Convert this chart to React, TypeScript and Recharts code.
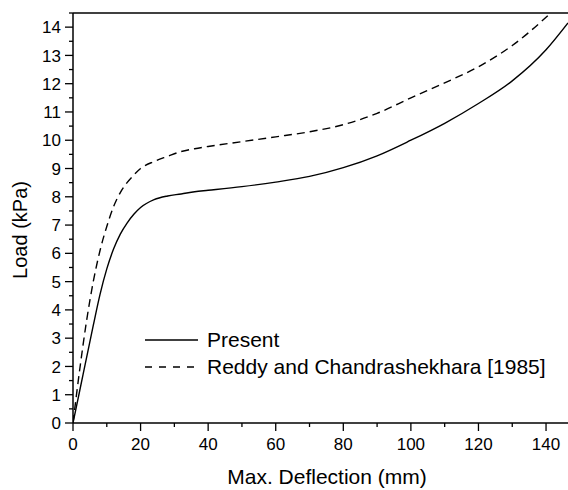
import { Label, Line, LineChart, ReferenceLine, XAxis, YAxis } from "recharts";

// Load vs. max deflection
const presentDeflection = [0, 2, 4, 6, 8, 10, 12, 14, 16, 18, 20, 24, 28, 32, 36, 40, 50, 60, 70, 80, 90, 100, 110, 120, 130, 140, 146.5];
const presentLoad = [0, 1.15, 2.3, 3.45, 4.55, 5.45, 6.15, 6.68, 7.07, 7.38, 7.62, 7.9, 8.03, 8.1, 8.18, 8.23, 8.36, 8.52, 8.72, 9.03, 9.45, 10.0, 10.6, 11.3, 12.1, 13.2, 14.15];

const reddyDeflection = [0, 2, 4, 6, 8, 10, 12, 14, 16, 18, 20, 24, 28, 32, 36, 40, 50, 60, 70, 80, 90, 100, 110, 120, 130, 140, 146.5];
const reddyLoad = [0, 1.9, 3.6, 5.0, 6.1, 6.95, 7.65, 8.15, 8.5, 8.77, 9.0, 9.25, 9.43, 9.6, 9.7, 9.78, 9.95, 10.12, 10.3, 10.55, 10.95, 11.5, 12.03, 12.6, 13.35, 14.35, 15.1];

const xTicks = [0, 10, 20, 30, 40, 50, 60, 70, 80, 90, 100, 110, 120, 130, 140];
const yTicks = [0, 0.5, 1, 1.5, 2, 2.5, 3, 3.5, 4, 4.5, 5, 5.5, 6, 6.5, 7, 7.5, 8, 8.5, 9, 9.5, 10, 10.5, 11, 11.5, 12, 12.5, 13, 13.5, 14, 14.5];

const presentData = presentDeflection.map((x, i) => ({ x, load: presentLoad[i] }));
const reddyData = reddyDeflection.map((x, i) => ({ x, load: reddyLoad[i] }));

const FONT = '"Liberation Sans", Arial, sans-serif';

function XTick(props: any) {
  const { x, y, payload } = props;
  const major = payload.value % 20 === 0;
  return (
    <g>
      <line x1={x} x2={x} y1={y} y2={y + (major ? 8 : 4)} stroke="#000" strokeWidth={1.3} />
      {major && (
        <text x={x} y={y + 27} textAnchor="middle" fontFamily={FONT} fontSize={17} fill="#000">
          {payload.value}
        </text>
      )}
    </g>
  );
}

function YTick(props: any) {
  const { x, y, payload } = props;
  const major = Number.isInteger(payload.value);
  return (
    <g>
      <line x1={x - (major ? 8 : 4)} x2={x} y1={y} y2={y} stroke="#000" strokeWidth={1.3} />
      {major && payload.value <= 14 && (
        <text x={x - 12} y={y} dy="0.36em" textAnchor="end" fontFamily={FONT} fontSize={17} fill="#000">
          {payload.value}
        </text>
      )}
    </g>
  );
}

const legendRows = [
  { name: "Present", dash: undefined },
  { name: "Reddy and Chandrashekhara [1985]", dash: "7 7" },
];

function LegendBox() {
  return (
    <div
      style={{
        position: "absolute",
        left: 145,
        top: 326.7,
        fontFamily: FONT,
        fontSize: 21,
        color: "#000",
      }}
    >
      {legendRows.map((r) => (
        <div key={r.name} style={{ display: "flex", alignItems: "center", height: 26.7, whiteSpace: "nowrap" }}>
          <svg width={62} height={10} style={{ display: "block" }}>
            <line x1={0} x2={53} y1={5} y2={5} stroke="#000" strokeWidth={1.4} strokeDasharray={r.dash} />
          </svg>
          <span style={{ lineHeight: "26px" }}>{r.name}</span>
        </div>
      ))}
    </div>
  );
}

export default function App() {
  return (
    <div style={{ position: "absolute", left: 0, top: 0, width: 568, height: 490, background: "#fff" }}>
      <LineChart width={568} height={490} margin={{ top: 13, right: 0, bottom: 0, left: 0 }}>
        <XAxis
          type="number"
          dataKey="x"
          domain={[0, 146.5]}
          allowDataOverflow
          ticks={xTicks}
          interval={0}
          tickSize={0}
          tickMargin={0}
          tickLine={false}
          tick={<XTick />}
          height={67}
          axisLine={{ stroke: "#000", strokeWidth: 1.5 }}
        >
          <Label
            content={() => (
              <text x={327} y={484} textAnchor="middle" fontFamily={FONT} fontSize={21} fill="#000">
                Max. Deflection (mm)
              </text>
            )}
          />
        </XAxis>
        <YAxis
          type="number"
          domain={[0, 14.5]}
          allowDataOverflow
          ticks={yTicks}
          interval={0}
          tickSize={0}
          tickMargin={0}
          tickLine={false}
          tick={<YTick />}
          width={73}
          axisLine={{ stroke: "#000", strokeWidth: 1.5 }}
        >
          <Label
            content={() => (
              <text
                x={27}
                y={230}
                transform="rotate(-90 27 230)"
                textAnchor="middle"
                fontFamily={FONT}
                fontSize={20}
                fill="#000"
              >
                Load (kPa)
              </text>
            )}
          />
        </YAxis>
        <ReferenceLine y={14.5} stroke="#000" strokeWidth={1.5} />
        <Line
          data={presentData}
          dataKey="load"
          name="Present"
          type="monotone"
          stroke="#000"
          strokeWidth={1.4}
          dot={false}
          isAnimationActive={false}
        />
        <Line
          data={reddyData}
          dataKey="load"
          name="Reddy and Chandrashekhara [1985]"
          type="monotone"
          stroke="#000"
          strokeWidth={1.4}
          strokeDasharray="8 5"
          dot={false}
          isAnimationActive={false}
        />
      </LineChart>
      <LegendBox />
    </div>
  );
}
